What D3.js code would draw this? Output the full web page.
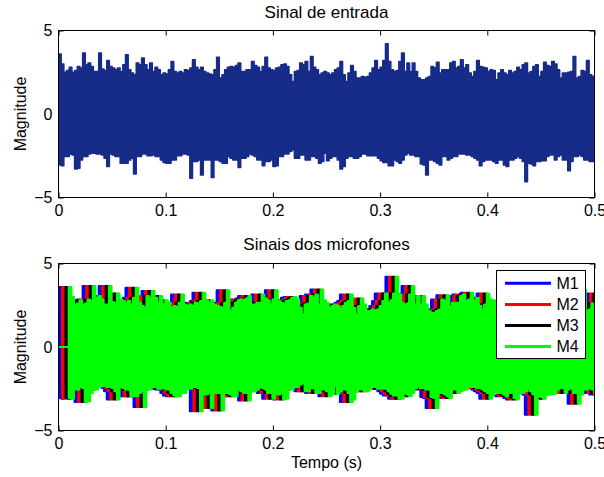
<!DOCTYPE html>
<html><head><meta charset="utf-8">
<script src="https://cdn.jsdelivr.net/npm/d3@7"></script>
<style>
html,body{margin:0;padding:0;background:#fff;}
svg{display:block;font-family:"Liberation Sans",Arial,Helvetica,sans-serif;}
</style></head><body>
<svg id="chart" width="604" height="477"></svg>
<script>
// Input signal, summarised per 2.5 ms window as the peak (upper) and trough (lower) value.
const sampleStep = 0.0025;
const inputUpper = [
  3.6,3.0,2.5,2.6,2.8,2.5,2.6,2.85,2.75,3.65,
  2.95,3.05,2.85,2.55,2.55,3.65,2.7,2.6,3.2,2.85,
  2.75,2.65,2.75,2.55,2.95,3.55,2.65,2.45,2.35,3.05,
  2.95,3.35,2.95,2.65,3.05,2.55,2.8,2.65,2.35,2.45,
  2.4,2.65,3.15,2.55,2.45,2.55,2.45,2.65,2.6,2.75,
  3.25,2.8,2.65,2.8,2.55,2.45,2.4,2.35,2.65,3.4,
  2.15,2.35,2.65,2.8,2.85,2.8,2.9,3.05,2.55,2.55,
  2.65,2.65,3.15,2.9,2.8,2.55,2.85,3.4,2.75,2.65,
  2.6,2.75,2.8,2.95,3.0,2.85,2.35,1.95,2.55,2.6,
  3.05,2.95,3.15,2.55,3.45,2.8,2.65,2.35,2.45,2.55,
  2.45,2.35,2.45,2.65,2.75,3.15,2.35,1.95,2.45,2.9,
  2.55,2.15,2.15,2.25,2.2,2.25,2.45,2.75,3.2,2.65,
  2.8,3.2,4.2,3.15,2.65,2.55,2.6,3.15,3.65,2.55,
  3.05,2.55,3.05,2.55,2.15,2.05,2.05,2.15,2.25,2.85,
  2.75,3.1,2.45,2.65,2.65,2.65,3.05,3.15,2.75,2.85,
  3.25,2.75,2.95,2.45,2.25,2.55,3.2,2.85,2.8,2.75,
  2.55,2.65,2.6,2.05,2.45,2.65,2.45,2.35,2.6,2.45,
  2.55,2.8,2.65,2.95,3.05,2.45,2.55,2.85,2.95,2.25,
  2.55,3.1,2.9,2.85,3.15,3.0,2.65,2.15,2.45,2.45,
  2.5,2.55,3.45,2.15,2.25,2.6,2.55,3.2,2.35,2.25
];
const inputLower = [
  -3.05,-3.1,-2.55,-2.55,-2.4,-2.45,-3.3,-3.25,-2.75,-2.55,
  -2.55,-2.4,-2.35,-2.35,-2.4,-2.4,-2.45,-2.65,-3.15,-2.4,
  -2.45,-2.55,-2.55,-2.95,-2.95,-2.95,-2.75,-2.65,-3.6,-2.55,
  -2.55,-2.4,-2.4,-2.5,-2.5,-2.45,-2.55,-2.55,-2.75,-2.9,
  -2.95,-2.95,-2.75,-2.75,-2.5,-2.5,-2.4,-2.4,-2.45,-3.85,
  -2.85,-2.85,-2.75,-3.65,-2.75,-2.75,-2.75,-3.8,-2.75,-2.75,
  -2.85,-2.95,-2.95,-2.55,-2.65,-2.75,-2.75,-3.2,-2.65,-2.65,
  -2.55,-2.4,-2.45,-2.55,-2.75,-2.75,-3.1,-2.85,-2.85,-2.75,
  -3.15,-3.1,-2.55,-2.55,-2.4,-2.4,-2.25,-2.15,-2.65,-2.65,
  -2.45,-2.45,-2.75,-2.75,-2.55,-2.55,-2.65,-2.95,-2.85,-2.35,
  -2.8,-2.65,-2.55,-2.55,-2.75,-3.3,-3.15,-2.65,-2.55,-2.55,
  -2.65,-2.65,-2.55,-2.4,-2.4,-2.5,-2.5,-2.5,-2.5,-2.65,
  -2.8,-2.9,-2.9,-3.1,-3.1,-2.75,-2.85,-2.95,-2.75,-2.45,
  -2.35,-2.45,-2.45,-2.55,-2.55,-3.0,-3.05,-3.65,-2.75,-2.75,
  -2.85,-2.95,-3.05,-2.55,-2.55,-2.75,-2.65,-2.55,-2.55,-2.4,
  -2.4,-2.4,-2.45,-2.45,-2.55,-2.65,-2.75,-3.1,-2.85,-2.75,
  -2.75,-2.75,-2.85,-2.95,-2.75,-2.75,-3.05,-3.15,-2.75,-2.75,
  -2.65,-2.55,-2.65,-2.85,-4.05,-2.95,-3.0,-3.1,-2.85,-2.85,
  -2.8,-2.8,-2.55,-2.45,-2.45,-2.75,-2.55,-2.45,-2.75,-2.75,
  -3.4,-2.85,-2.55,-2.55,-2.45,-2.55,-2.75,-2.75,-2.85,-2.85
];

// Microphone signals: the input arriving at each microphone after a delay (s).
const micNames = ["M1","M2","M3","M4"];
const micColors = ["#0000ff","#ff0000","#000000","#00ff00"];
const micDelays = [0, 0.0033, 0.0065, 0.0095];

const xTicks = [0, 0.1, 0.2, 0.3, 0.4, 0.5];
const xTickLabels = ["0","0.1","0.2","0.3","0.4","0.5"];
const yTicks = [-5, 0, 5];
const yTickLabels = ["\u22125","0","5"];

const inputColor = "#172b89";

const svg = d3.select("#chart");
const left = 58.5, right = 594.5;
const x = d3.scaleLinear().domain([0, 0.5]).range([left, right]);

const panels = [
  {top: 30.5, bottom: 197.5, title: "Sinal de entrada", titleY: 17.5},
  {top: 263.5, bottom: 430.5, title: "Sinais dos microfones", titleY: 250, xlabel: "Tempo (s)"}
];

function envelope(delay) {
  const pts = [];
  if (delay > 0) pts.push({t: 0, hi: 0, lo: 0});
  inputUpper.forEach((u, i) => pts.push({t: delay + i * sampleStep, hi: u, lo: inputLower[i]}));
  const n = inputUpper.length;
  pts.push({t: delay + n * sampleStep, hi: inputUpper[n - 1], lo: inputLower[n - 1]});
  return pts;
}

panels.forEach((p, k) => {
  const y = d3.scaleLinear().domain([-5, 5]).range([p.bottom, p.top]);
  const g = svg.append("g");
  const clipId = "clip" + k;
  svg.append("clipPath").attr("id", clipId)
    .append("rect").attr("x", left).attr("y", p.top)
    .attr("width", right - left).attr("height", p.bottom - p.top);

  // tick marks (inward, mirrored on all four sides)
  const fmtX = (d, i) => xTickLabels[i];
  const fmtY = (d, i) => yTickLabels[i];
  const axB = g.append("g").attr("transform", `translate(0,${p.bottom})`)
    .call(d3.axisBottom(x).tickValues(xTicks).tickFormat(fmtX).tickSizeInner(-5).tickSizeOuter(0).tickPadding(7));
  const axT = g.append("g").attr("transform", `translate(0,${p.top})`)
    .call(d3.axisTop(x).tickValues(xTicks).tickFormat("").tickSizeInner(-5).tickSizeOuter(0));
  const axL = g.append("g").attr("transform", `translate(${left},0)`)
    .call(d3.axisLeft(y).tickValues(yTicks).tickFormat(fmtY).tickSizeInner(-5).tickSizeOuter(0).tickPadding(6));
  const axR = g.append("g").attr("transform", `translate(${right},0)`)
    .call(d3.axisRight(y).tickValues(yTicks).tickFormat("").tickSizeInner(-5).tickSizeOuter(0));
  [axB, axT, axL, axR].forEach(a => {
    a.select(".domain").remove();
    a.selectAll("line").attr("stroke", "#000").attr("stroke-width", 1);
    a.selectAll("text").attr("fill", "#000").style("font-size", "16px").style("font-family", "'Liberation Sans', Arial, sans-serif");
  });

  const area = d3.area()
    .x(d => x(d.t)).y0(d => y(d.lo)).y1(d => y(d.hi))
    .curve(d3.curveStepAfter);
  const plot = g.append("g").attr("clip-path", `url(#${clipId})`);

  if (k === 0) {
    plot.append("path").datum(envelope(0)).attr("d", area)
      .attr("fill", inputColor).attr("stroke", inputColor)
      .attr("stroke-width", 1.5).attr("stroke-linejoin", "round");
  } else {
    micNames.forEach((name, j) => {
      plot.append("path").datum(envelope(micDelays[j])).attr("d", area)
        .attr("fill", micColors[j]).attr("stroke", micColors[j])
        .attr("stroke-width", 2).attr("stroke-linejoin", "round");
    });
  }

  // axes box
  g.append("rect").attr("x", left).attr("y", p.top)
    .attr("width", right - left).attr("height", p.bottom - p.top)
    .attr("fill", "none").attr("stroke", "#000").attr("stroke-width", 1);

  // titles and labels
  g.append("text").attr("x", (left + right) / 2).attr("y", p.titleY)
    .attr("text-anchor", "middle").style("font-size", "17px").text(p.title);
  g.append("text")
    .attr("transform", `translate(25.5,${(p.top + p.bottom) / 2}) rotate(-90)`)
    .attr("text-anchor", "middle").style("font-size", "16px").text("Magnitude");
  if (p.xlabel) {
    g.append("text").attr("x", (left + right) / 2).attr("y", 468)
      .attr("text-anchor", "middle").style("font-size", "16px").text(p.xlabel);
  }

  // legend for the microphone panel
  if (k === 1) {
    const lg = g.append("g");
    lg.append("rect").attr("x", 496.5).attr("y", 270.5).attr("width", 89).attr("height", 88)
      .attr("fill", "#fff").attr("stroke", "#000").attr("stroke-width", 1);
    micNames.forEach((name, j) => {
      const ly = 283.3 + j * 21.1;
      lg.append("line").attr("x1", 505).attr("x2", 551).attr("y1", ly).attr("y2", ly)
        .attr("stroke", micColors[j]).attr("stroke-width", 3);
      lg.append("text").attr("x", 556.5).attr("y", ly).attr("dy", "0.36em")
        .style("font-size", "16px").text(name);
    });
  }
});
</script>
</body></html>
